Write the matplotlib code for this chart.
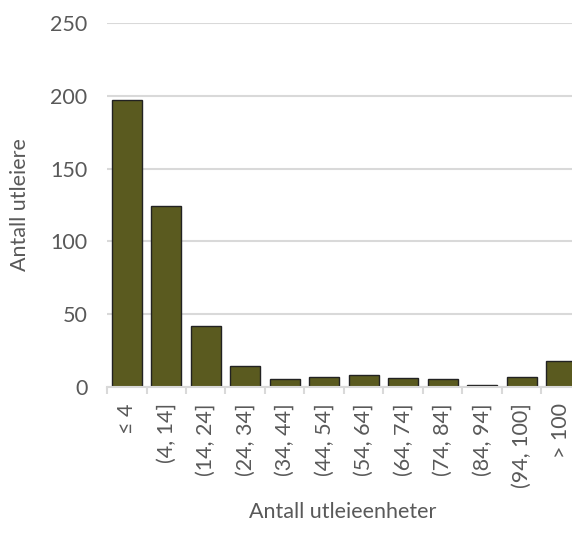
import matplotlib.pyplot as plt
import numpy as np

# === Données ===
categories = ["≤ 4", "(4, 14]", "(14, 24]", "(24, 34]", "(34, 44]", "(44, 54]",
              "(54, 64]", "(64, 74]", "(74, 84]", "(84, 94]", "(94, 100]", "> 100"]
antall = [197, 124, 42, 14, 5, 7, 8, 6, 5, 1, 7, 18]
yticks = [0, 50, 100, 150, 200, 250]

plt.rcParams['font.family'] = ['Lato', 'DejaVu Sans']
gris_texte = '#595959'
gris_grille = '#d9d9d9'

fig = plt.figure(figsize=(5.72, 5.35), dpi=100)
W, H = 572, 535
ax = fig.add_axes([107 / W, (H - 386.7) / H, (581 - 107) / W, (386.7 - 23.3) / H])

x = np.arange(len(categories))
ax.bar(x, antall, width=0.75, color='#5a5a1f', edgecolor='#222222', linewidth=1.0, zorder=3)

ax.set_xlim(-0.5, len(categories) - 0.5)
ax.set_ylim(0, 250)
ax.set_yticks(yticks)
ax.set_yticklabels([str(v) for v in yticks])
ax.grid(axis='y', color=gris_grille, linewidth=1.5, zorder=0)
ax.set_axisbelow(True)

for s in ['top', 'right', 'left']:
    ax.spines[s].set_visible(False)
ax.spines['bottom'].set_color(gris_grille)
ax.spines['bottom'].set_linewidth(1.5)
ax.spines['bottom'].set_zorder(4)

# graduations aux limites des catégories
ax.set_xticks(np.arange(len(categories) + 1) - 0.5, minor=False)
ax.set_xticklabels([])
ax.tick_params(axis='x', which='major', length=5, width=1.5, color=gris_grille)
ax.set_xticks(x, minor=True)
ax.set_xticklabels(categories, minor=True, rotation=90, fontsize=15.5, color=gris_texte)
ax.tick_params(axis='x', which='minor', length=0, pad=12)
ax.tick_params(axis='y', length=0, labelsize=15.5, labelcolor=gris_texte, pad=14)

fig.text(20 / W, 1 - 205 / H, "Antall utleiere", rotation=90, ha='center', va='center',
         fontsize=15.5, color=gris_texte)
fig.text(343 / W, 1 - 512 / H, "Antall utleieenheter", ha='center', va='center',
         fontsize=15.5, color=gris_texte)

plt.savefig("out.png", dpi=100)
